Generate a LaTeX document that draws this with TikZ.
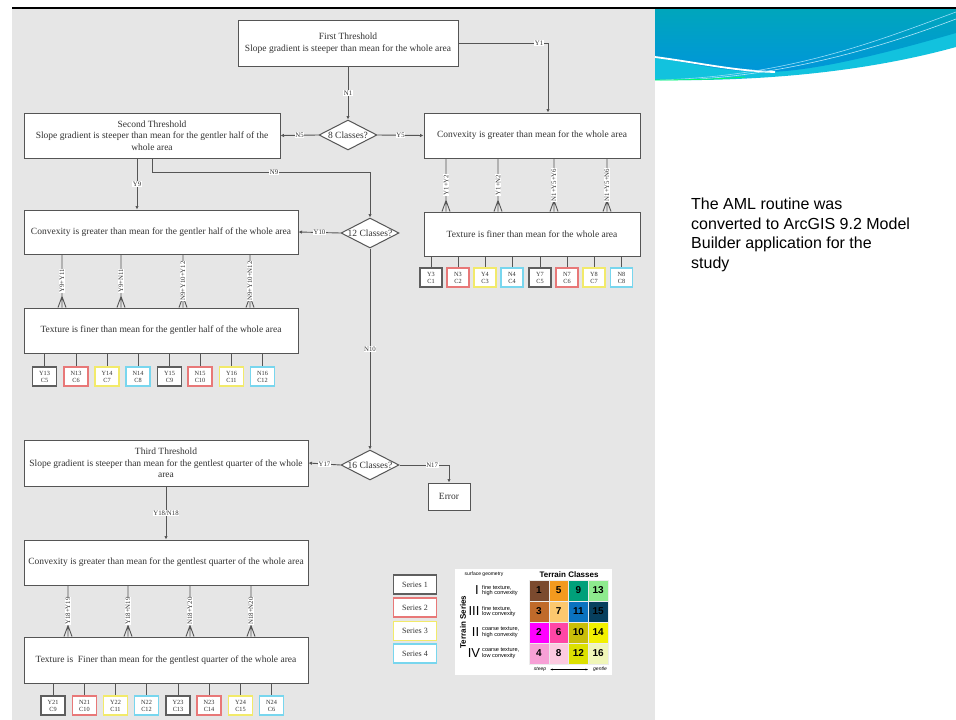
\documentclass[tikz,border=0pt]{standalone}
\usepackage{fontspec}
\setmainfont{Liberation Serif}
\newfontfamily\arialfont{Liberation Sans}
\usepackage{xcolor}
\definecolor{slidegray}{HTML}{E6E6E6}
\definecolor{boxline}{HTML}{555555}
\definecolor{boxtext}{HTML}{333333}
\definecolor{ser1}{HTML}{5E5E5E}
\definecolor{ser2}{HTML}{E87878}
\definecolor{ser3}{HTML}{F2EA6A}
\definecolor{ser4}{HTML}{78D6EE}
\definecolor{wavetop}{HTML}{00A6BC}
\definecolor{wavemid}{HTML}{0096DA}
\definecolor{wavecyan}{HTML}{12C2DE}
\definecolor{tc1}{HTML}{7B4A2E}
\definecolor{tc5}{HTML}{F39A1E}
\definecolor{tc9}{HTML}{00A07A}
\definecolor{tc13}{HTML}{8EEA8E}
\definecolor{tc3}{HTML}{C06A2A}
\definecolor{tc7}{HTML}{FCC86E}
\definecolor{tc11}{HTML}{0A72C0}
\definecolor{tc15}{HTML}{073F5E}
\definecolor{tc2}{HTML}{FF00FF}
\definecolor{tc6}{HTML}{FF46A6}
\definecolor{tc10}{HTML}{C9BE08}
\definecolor{tc14}{HTML}{F2F000}
\definecolor{tc4}{HTML}{F7A0D6}
\definecolor{tc8}{HTML}{FCCAE0}
\definecolor{tc12}{HTML}{DCE000}
\definecolor{tc16}{HTML}{F0F6B8}
\usepackage{tikz}
\usetikzlibrary{shapes.geometric, arrows.meta, positioning, calc}

\begin{document}
\begin{tikzpicture}[x=1pt, y=-1pt,
  stepbox/.style={rectangle, draw=boxline, fill=white, line width=1pt,
    align=center, text=boxtext, inner sep=1pt,
    font=\fontsize{9.5}{11.5}\selectfont},
  ask/.style={diamond, draw=boxline, fill=white, line width=1pt, aspect=2,
    inner sep=-3pt, minimum width=58pt, minimum height=30pt, text=boxtext,
    font=\fontsize{9.5}{10}\selectfont},
  cls/.style={rectangle, draw=#1, fill=white, line width=1.2pt,
    minimum width=24pt, minimum height=19pt, inner sep=0pt, align=center,
    text=boxtext, font=\fontsize{6.3}{7}\selectfont},
  series/.style={cls=#1, minimum width=43pt, font=\fontsize{8}{8}\selectfont},
  flow/.style={draw=boxline, line width=0.9pt, -{Latex[length=3.5pt,width=3.5pt]}},
  tie/.style={draw=boxline, line width=0.9pt},
  lbl/.style={fill=white, inner sep=0.6pt, text=boxtext,
    font=\fontsize{6.8}{7}\selectfont},
  vlbl/.style={lbl, rotate=90},
  cell/.style={minimum width=19.75pt, minimum height=21pt, inner sep=0pt,
    draw=white!85!gray, line width=0.4pt,
    font=\arialfont\bfseries\fontsize{10}{10}\selectfont},
  series name/.style={anchor=west, align=left, inner sep=0pt,
    font=\arialfont\fontsize{5.6}{5.9}\selectfont},
  numeral/.style={font=\arialfont\fontsize{13}{13}\selectfont, inner sep=0pt}
]
\useasboundingbox (0,0) rectangle (956,720);

% Slide
\fill[slidegray] (12,8) rectangle (655,720);
\draw[black, line width=2pt] (12,8) -- (956,8);

% Header wave
\fill[wavecyan] (655,9) -- (956,9) -- (956,47) .. controls (880,68) and (780,82) .. (655,80) -- cycle;
\shade[top color=wavetop, bottom color=wavemid] (655,9) -- (956,9) -- (956,33)
  .. controls (880,55) and (810,72) .. (765,72) .. controls (720,71) and (690,63) .. (655,57) -- cycle;
\draw[white, line width=1.8pt] (655,57) .. controls (700,63) and (735,71) .. (775,72);
\draw[cyan!40!white, line width=0.6pt] (660,80) .. controls (790,76) and (880,40) .. (956,12);
\draw[cyan!30!white, line width=0.6pt] (700,79) .. controls (800,72) and (890,44) .. (956,19);
\draw[green!60!cyan, line width=0.8pt] (655,80) .. controls (690,80) and (720,79) .. (745,77);

% Thresholds and questions
\node[stepbox, minimum width=220pt, minimum height=46pt] (thr1) at (348,43)
  {First Threshold\\Slope gradient is steeper than mean for the whole area};
\node[ask] (d8) at (348,135) {8 Classes?};
\node[stepbox, minimum width=256pt, minimum height=45pt] (thr2) at (152,135.5)
  {Second Threshold\\Slope gradient is steeper than mean for the gentler half of the\\whole area};
\node[stepbox, minimum width=216pt, minimum height=45pt] (cvx1) at (532,135.5)
  {Convexity is greater than mean for the whole area};
\node[stepbox, minimum width=216pt, minimum height=44pt] (tex1) at (532,234)
  {Texture is finer than mean for the whole area};
\node[stepbox, minimum width=274pt, minimum height=44pt] (cvx2) at (161,232)
  {Convexity is greater than mean for the gentler half of the whole area};
\node[ask] (d12) at (370,233) {12 Classes?};
\node[stepbox, minimum width=274pt, minimum height=45pt] (tex2) at (161,330.5)
  {Texture is finer than mean for the gentler half of the whole area};
\node[ask] (d16) at (370,465) {16 Classes?};
\node[stepbox, minimum width=284pt, minimum height=46pt] (thr3) at (166,463)
  {Third Threshold\\Slope gradient is steeper than mean for the gentlest quarter of the whole\\area};
\node[stepbox, minimum width=42pt, minimum height=27pt] (err) at (449,496.5) {Error};
\node[stepbox, minimum width=284pt, minimum height=45pt] (cvx3) at (166,562.5)
  {Convexity is greater than mean for the gentlest quarter of the whole area};
\node[stepbox, minimum width=284pt, minimum height=46pt] (tex3) at (166,660)
  {Texture is\ \ Finer than mean for the gentlest quarter of the whole area};

% Decisions
\coordinate (y1end) at ([xshift=16pt]cvx1.north);
\coordinate (y9top) at ([xshift=-15pt]thr2.south);
\draw[flow] (thr1) -- node[lbl]{N1} (d8);
\draw[flow] (thr1.east) -| node[lbl, pos=0.45]{Y1} (y1end);
\draw[flow] (d8.west) -- node[lbl]{N5} (thr2.east);
\draw[flow] (d8.east) -- node[lbl]{Y5} (cvx1.west);
\draw[flow] (y9top) -- node[lbl]{Y9} (y9top |- cvx2.north);
\draw[flow] (thr2.south) -- ++(0,14) -| node[lbl, pos=0.28]{N9} (d12.north);
\draw[flow] (d12.west) -- node[lbl]{Y10} (cvx2.east);
\draw[flow] (d12) -- node[lbl]{N10} (d16);
\draw[flow] (d16.west) -- node[lbl]{Y17} (thr3.east);
\draw[flow] (d16.east) -| node[lbl, pos=0.33]{N17} (err.north);
\draw[flow] (thr3) -- node[lbl]{Y18/N18} (cvx3);

% Convexity to texture forks
\draw[tie] ([xshift=-86pt]cvx1.south) -- node[vlbl]{Y1+Y2} ([xshift=-86pt]tex1.north) ++(-4,0) -- ++(4,-11) -- ++(4,11);
\draw[tie] ([xshift=-34pt]cvx1.south) -- node[vlbl]{Y1+N2} ([xshift=-34pt]tex1.north) ++(-4,0) -- ++(4,-11) -- ++(4,11);
\draw[tie] ([xshift=22pt]cvx1.south) -- node[vlbl]{N1+Y5+Y6} ([xshift=22pt]tex1.north) ++(-4,0) -- ++(4,-11) -- ++(4,11);
\draw[tie] ([xshift=75pt]cvx1.south) -- node[vlbl]{N1+Y5+N6} ([xshift=75pt]tex1.north) ++(-4,0) -- ++(4,-11) -- ++(4,11);
\draw[tie] ([xshift=-99pt]cvx2.south) -- node[vlbl]{Y9+Y11} ([xshift=-99pt]tex2.north) ++(-4,0) -- ++(4,-11) -- ++(4,11);
\draw[tie] ([xshift=-40pt]cvx2.south) -- node[vlbl]{Y9+N11} ([xshift=-40pt]tex2.north) ++(-4,0) -- ++(4,-11) -- ++(4,11);
\draw[tie] ([xshift=22pt]cvx2.south) -- node[vlbl]{N9+Y10+Y12} ([xshift=22pt]tex2.north) ++(-4,0) -- ++(4,-11) -- ++(4,11);
\draw[tie] ([xshift=89pt]cvx2.south) -- node[vlbl]{N9+Y10+N12} ([xshift=89pt]tex2.north) ++(-4,0) -- ++(4,-11) -- ++(4,11);
\draw[tie] ([xshift=-98pt]cvx3.south) -- node[vlbl]{Y18+Y19} ([xshift=-98pt]tex3.north) ++(-4,0) -- ++(4,-11) -- ++(4,11);
\draw[tie] ([xshift=-38pt]cvx3.south) -- node[vlbl]{Y18+N19} ([xshift=-38pt]tex3.north) ++(-4,0) -- ++(4,-11) -- ++(4,11);
\draw[tie] ([xshift=24pt]cvx3.south) -- node[vlbl]{N18+Y20} ([xshift=24pt]tex3.north) ++(-4,0) -- ++(4,-11) -- ++(4,11);
\draw[tie] ([xshift=85pt]cvx3.south) -- node[vlbl]{N18+N20} ([xshift=85pt]tex3.north) ++(-4,0) -- ++(4,-11) -- ++(4,11);

% Classes, row 1
\node[cls=ser1, minimum width=22pt] (y3) at (431,277.5) {Y3\\C1};
\node[cls=ser2, minimum width=22pt] (n3) at (458,277.5) {N3\\C2};
\node[cls=ser3, minimum width=22pt] (y4) at (485,277.5) {Y4\\C3};
\node[cls=ser4, minimum width=22pt] (n4) at (512,277.5) {N4\\C4};
\node[cls=ser1, minimum width=22pt] (y7) at (540,277.5) {Y7\\C5};
\node[cls=ser2, minimum width=22pt] (n7) at (567,277.5) {N7\\C6};
\node[cls=ser3, minimum width=22pt] (y8) at (594,277.5) {Y8\\C7};
\node[cls=ser4, minimum width=22pt] (n8) at (621.5,277.5) {N8\\C8};
\draw[tie] (tex1.south -| y3.north) -- (y3.north) (tex1.south -| n3.north) -- (n3.north)
  (tex1.south -| y4.north) -- (y4.north) (tex1.south -| n4.north) -- (n4.north)
  (tex1.south -| y7.north) -- (y7.north) (tex1.south -| n7.north) -- (n7.north)
  (tex1.south -| y8.north) -- (y8.north) (tex1.south -| n8.north) -- (n8.north);

% Classes, row 2
\node[cls=ser1] (y13) at (44.5,376.5) {Y13\\C5};
\node[cls=ser2] (n13) at (76,376.5) {N13\\C6};
\node[cls=ser3] (y14) at (107,376.5) {Y14\\C7};
\node[cls=ser4] (n14) at (138,376.5) {N14\\C8};
\node[cls=ser1] (y15) at (169.5,376.5) {Y15\\C9};
\node[cls=ser2] (n15) at (200,376.5) {N15\\C10};
\node[cls=ser3] (y16) at (231.5,376.5) {Y16\\C11};
\node[cls=ser4] (n16) at (262.5,376.5) {N16\\C12};
\draw[tie] (tex2.south -| y13.north) -- (y13.north) (tex2.south -| n13.north) -- (n13.north)
  (tex2.south -| y14.north) -- (y14.north) (tex2.south -| n14.north) -- (n14.north)
  (tex2.south -| y15.north) -- (y15.north) (tex2.south -| n15.north) -- (n15.north)
  (tex2.south -| y16.north) -- (y16.north) (tex2.south -| n16.north) -- (n16.north);

% Classes, row 3
\node[cls=ser1] (y21) at (53,705.5) {Y21\\C9};
\node[cls=ser2] (n21) at (84.5,705.5) {N21\\C10};
\node[cls=ser3] (y22) at (115.5,705.5) {Y22\\C11};
\node[cls=ser4] (n22) at (146.5,705.5) {N22\\C12};
\node[cls=ser1] (y23) at (178,705.5) {Y23\\C13};
\node[cls=ser2] (n23) at (209,705.5) {N23\\C14};
\node[cls=ser3] (y24) at (240.5,705.5) {Y24\\C15};
\node[cls=ser4] (n24) at (271.5,705.5) {N24\\C6};
\draw[tie] (tex3.south -| y21.north) -- (y21.north) (tex3.south -| n21.north) -- (n21.north)
  (tex3.south -| y22.north) -- (y22.north) (tex3.south -| n22.north) -- (n22.north)
  (tex3.south -| y23.north) -- (y23.north) (tex3.south -| n23.north) -- (n23.north)
  (tex3.south -| y24.north) -- (y24.north) (tex3.south -| n24.north) -- (n24.north);

% Series legend
\node[series=ser1] (s1) at (415,584.5) {Series 1};
\node[series=ser2] (s2) at (415,607.5) {Series 2};
\node[series=ser3] (s3) at (415,631) {Series 3};
\node[series=ser4] (s4) at (415,653.5) {Series 4};

% Terrain classes table
\fill[white] (455,569) rectangle (612,675);
\node[font=\arialfont\fontsize{5}{5}\selectfont, inner sep=0pt] (geo) at (484,574.5) {surface geometry};
\node[font=\arialfont\bfseries\fontsize{8}{8}\selectfont, inner sep=0pt] (tct) at (569,574.5) {Terrain Classes};
\node[font=\arialfont\bfseries\fontsize{8}{8}\selectfont, rotate=90, inner sep=0pt] (tser) at (463,622) {Terrain Series};
\node[numeral] (r1) at (477,590.5) {I};
\node[numeral] (r3) at (474,611.5) {III};
\node[numeral] (r2) at (475.5,632.5) {II};
\node[numeral] (r4) at (474,653.5) {IV};
\node[series name] at (482,590.5) {fine texture,\\high convexity};
\node[series name] at (482,611.5) {fine texture,\\low convexity};
\node[series name] at (482,632.5) {coarse texture,\\high convexity};
\node[series name] at (482,653.5) {coarse texture,\\low convexity};
% Row 1
\node[cell, fill=tc1] (t1) at (538.9,590.5) {1};
\node[cell, fill=tc5] (t5) at (558.6,590.5) {5};
\node[cell, fill=tc9] (t9) at (578.4,590.5) {9};
\node[cell, fill=tc13] (t13) at (598.1,590.5) {13};
% Row 2
\node[cell, fill=tc3] (t3) at (538.9,611.5) {3};
\node[cell, fill=tc7] (t7) at (558.6,611.5) {7};
\node[cell, fill=tc11] (t11) at (578.4,611.5) {11};
\node[cell, fill=tc15] (t15) at (598.1,611.5) {15};
% Row 3
\node[cell, fill=tc2] (t2) at (538.9,632.5) {2};
\node[cell, fill=tc6] (t6) at (558.6,632.5) {6};
\node[cell, fill=tc10] (t10) at (578.4,632.5) {10};
\node[cell, fill=tc14] (t14) at (598.1,632.5) {14};
% Row 4
\node[cell, fill=tc4] (t4) at (538.9,653.5) {4};
\node[cell, fill=tc8] (t8) at (558.6,653.5) {8};
\node[cell, fill=tc12] (t12) at (578.4,653.5) {12};
\node[cell, fill=tc16] (t16) at (598.1,653.5) {16};
\node[font=\arialfont\itshape\fontsize{5}{5}\selectfont, inner sep=0pt] (steep) at (540,669.5) {steep};
\node[font=\arialfont\itshape\fontsize{5}{5}\selectfont, inner sep=0pt] (gentle) at (600,669.5) {gentle};
\draw[{Stealth[length=2.5pt]}-{Stealth[length=2.5pt]}, line width=0.4pt] ([xshift=4pt]steep.east) -- ([xshift=-5pt]gentle.west);

% Note
\node[anchor=north west, align=left, inner sep=0pt,
  font=\arialfont\fontsize{16}{19.5}\selectfont] (note) at (691,198)
  {The AML routine was\\converted to ArcGIS 9.2 Model\\Builder application for the\\study};
\end{tikzpicture}
\end{document}
